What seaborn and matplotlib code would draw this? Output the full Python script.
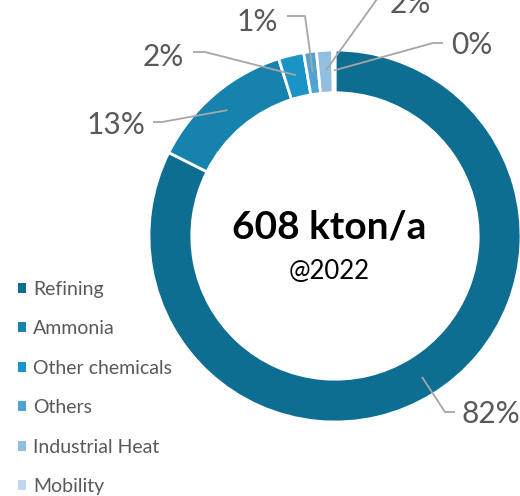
import numpy as np
import matplotlib
matplotlib.use("Agg")
import matplotlib.pyplot as plt
import matplotlib.patches as mpatches
import seaborn as sns

# Data
categories = ["Refining", "Ammonia", "Other chemicals", "Others", "Industrial Heat", "Mobility"]
shares = [82.4, 12.7, 2.2, 1.1, 1.4, 0.2]
share_labels = ["82%", "13%", "2%", "1%", "2%", "0%"]
total_text = "608 kton/a"
year_text = "@2022"

colors = ["#0e6e92", "#1583ae", "#1a93c6", "#4fa3d2", "#92bfe0", "#bfd8ee"]

sns.set_theme(style="white")
plt.rcParams['font.family'] = ['Lato', 'DejaVu Sans']

W, H = 520, 496
CX, CY, R = 335, 236, 186

def px(x, y):
    # pixel position -> data units (radius 1 == R px)
    return (x - CX) / R, (CY - y) / R

fig = plt.figure(figsize=(W / 100, H / 100), dpi=100)
ax = fig.add_axes([0, 0, 1, 1])

wedges, _ = ax.pie(shares, colors=colors, startangle=90, counterclock=False,
                   radius=1.0, wedgeprops=dict(width=0.23, edgecolor="white", linewidth=2))
ax.set_aspect("auto")
ax.set_xlim((0 - CX) / R, (W - CX) / R)
ax.set_ylim((CY - H) / R, CY / R)
ax.axis("off")

# leader lines: (elbow, line end, text pos, ha) in pixels
label_layout = [
    ((445, 412), (455, 412), (462, 414), "left"),
    ((162, 122), (153, 122), (145, 125), "right"),
    ((205, 52), (193, 52), (184, 57), "right"),
    ((305, 16), (287, 16), (278, 22), "right"),
    ((380, -5), (386, -5), (390, 4), "left"),
    ((433, 43), (443, 43), (451, 45), "left"),
]

line_col = "#a6a6a6"
text_col = "#595959"
for w, lab, (elb, end, tpos, ha) in zip(wedges, share_labels, label_layout):
    mid = np.deg2rad((w.theta1 + w.theta2) / 2)
    ax_, ay_ = 0.89 * np.cos(mid), 0.89 * np.sin(mid)
    ex, ey = px(*elb)
    nx, ny = px(*end)
    ax.plot([ax_, ex, nx], [ay_, ey, ny], color=line_col, lw=1.3, solid_capstyle="butt")
    tx, ty = px(*tpos)
    ax.text(tx, ty, lab, ha=ha, va="center", fontsize=21.5, color=text_col)

# centre text
x0, y0 = px(329, 227)
ax.text(x0, y0, total_text, ha="center", va="center", fontsize=28, fontweight="bold", color="black")
x1, y1 = px(329, 271)
ax.text(x1, y1, year_text, ha="center", va="center", fontsize=18.5, color="black")

# legend
handles = [mpatches.Patch(facecolor=c, edgecolor="none") for c in colors]
leg = ax.legend(handles, categories, loc="upper left", bbox_to_anchor=(0.02, 0.45),
                frameon=False, fontsize=14, handlelength=0.42, handleheight=0.42,
                handletextpad=0.35, labelspacing=1.16, borderaxespad=0)
for t in leg.get_texts():
    t.set_color(text_col)

fig.savefig("out.png", dpi=100)
